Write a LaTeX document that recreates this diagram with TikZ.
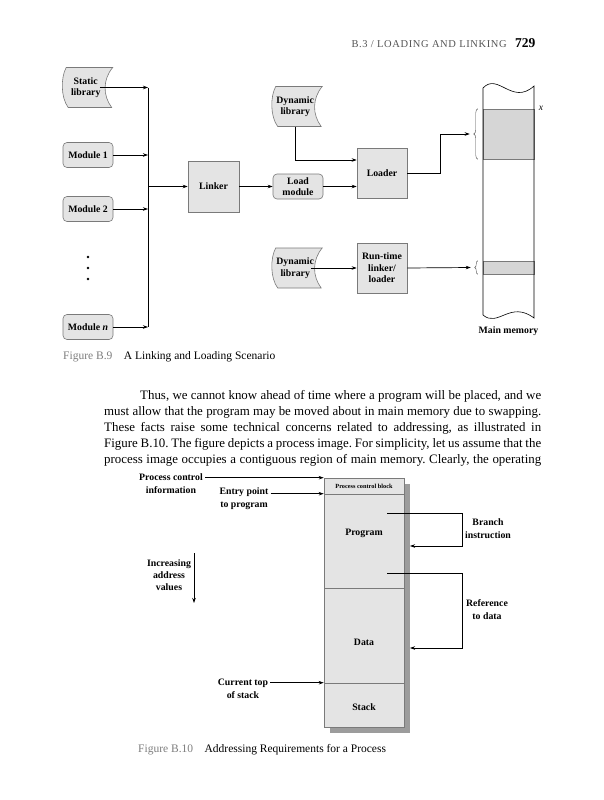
\documentclass[tikz,border=0pt]{standalone}
\usepackage{fontspec}
\setmainfont{Liberation Serif}
\usetikzlibrary{arrows.meta,decorations.pathreplacing}
\definecolor{boxfill}{HTML}{E4E4E4}
\definecolor{boxline}{HTML}{7A7A7A}
\definecolor{memfill}{HTML}{D6D6D6}
\definecolor{shadowgray}{HTML}{9C9C9C}
\definecolor{capgray}{HTML}{7E7E7E}
\definecolor{headgray}{HTML}{555555}
\newcommand\libshapeat[1]{\draw[draw=boxline, fill=boxfill, line width=0.6pt, shift={#1}] (-21.5,-20) -- (25,-20) .. controls (15,-8) and (15,8) .. (24,20) -- (-19.5,20) .. controls (-27,10) and (-27,-10) .. (-21.5,-20) -- cycle;}
\begin{document}
\frenchspacing
\begin{tikzpicture}[x=1pt,y=-1pt,
  lbl/.style={font=\bfseries\fontsize{9.8}{11.5}\selectfont, align=center, inner sep=0pt},
  box/.style={lbl, draw=boxline, fill=boxfill, line width=0.6pt, minimum width=50pt, minimum height=50pt},
  rbox/.style={lbl, draw=boxline, fill=boxfill, rounded corners=4pt, line width=0.6pt, minimum width=50pt, minimum height=25pt},
  lib/.style={lbl, minimum width=44pt, minimum height=40pt},
  memreg/.style={draw=boxline, fill=memfill, line width=0.5pt, minimum width=51pt, inner sep=0pt},
  seg/.style={draw=boxline, fill=boxfill, line width=0.6pt, minimum width=80pt, inner sep=0pt},
  conn/.style={line width=0.7pt, -{Stealth[length=5pt,width=3.5pt]}},
  plain/.style={line width=0.7pt},
  brc/.style={decorate, line width=0.4pt, draw=black!70},
  body/.style={anchor=base west, inner sep=0pt, font=\fontsize{12.9}{16}\selectfont},
  side/.style={lbl, font=\bfseries\fontsize{9.8}{13}\selectfont},
]
\useasboundingbox (0,0) rectangle (604,800);
\fill[white] (0,0) rectangle (604,800);

% header
\node[anchor=base east, inner sep=0pt, font=\addfontfeature{LetterSpace=6}\fontsize{10.5}{12}\selectfont, text=headgray] (head) at (507,48) {B.3 / LOADING AND LINKING};
\node[anchor=base west, inner sep=0pt, font=\bfseries\fontsize{13.5}{15}\selectfont] (pageno) at (515,48) {729};

% ---------- Figure B.9 ----------
\libshapeat{(87.7,87.5)}
\node[lib] (slib) at (85.7,87.5) {Static\\library};
\node[rbox] (mod1) at (88,155) {Module 1};
\node[rbox] (mod2) at (88,209) {Module 2};
\node[rbox] (modn) at (88,327) {Module \textit{n}};
\foreach \yy [count=\i] in {257,268,279} \fill (88,\yy) circle (1.3pt);

\coordinate (bustop) at (148,87.5);
\coordinate (busbot) at (148,327);
\draw[plain] (bustop) -- (busbot);
\draw[conn] ([xshift=-8pt]slib.east) -- (slib.east -| bustop);
\draw[conn] (mod1.east) -- (mod1.east -| bustop);
\draw[conn] (mod2.east) -- (mod2.east -| bustop);
\draw[conn] (modn.east) -- (modn.east -| bustop);

\node[box, minimum width=51pt, minimum height=51pt] (linker) at (213.5,186.5) {Linker};
\draw[conn] (linker.west -| bustop) -- (linker.west);
\node[rbox] (loadmod) at (298,186.5) {Load\\module};
\draw[conn] (linker.east) -- (loadmod.west);

\libshapeat{(297.2,106.5)}
\node[lib] (dlib1) at (295.2,106.5) {Dynamic\\library};
\node[box] (loader) at (382,173) {Loader};
\draw[conn] (dlib1.south) |- ([yshift=13pt]loader.west);
\draw[conn] (loadmod.east) -- (loadmod.east -| loader.west);

\libshapeat{(297.2,268)}
\node[lib] (dlib2) at (295.2,268) {Dynamic\\library};
\node[box] (rtl) at (382,268) {Run-time\\linker/\\loader};
\draw[conn] ([xshift=-6pt]dlib2.east) -- (rtl.west);

% main memory
\node[memreg, minimum height=50pt] (seg1) at (508.5,134) {};
\node[memreg, minimum height=13pt] (seg2) at (508.5,267.5) {};
\draw[line width=0.6pt] (483,315) -- (483,88) .. controls (498,72) and (512,106) .. (534,86) -- (534,318) .. controls (510,300) and (498,328) .. (483,315);
\node[font=\itshape\fontsize{9.5}{11}\selectfont, inner sep=0pt] (xlbl) at (541,108) {x};
\node[lbl] (mmlbl) at (508.5,331) {Main memory};
\draw[brc, decoration={brace, amplitude=4pt}] ([xshift=-5pt]seg1.south west) -- ([xshift=-5pt]seg1.north west);
\draw[brc, decoration={brace, amplitude=3pt}] ([xshift=-5pt]seg2.south west) -- ([xshift=-5pt]seg2.north west);
\draw[conn] (loader.east) -- ++(33,0) |- ([xshift=-13pt]seg1.west);
\draw[conn] (rtl.east) -- ([xshift=-12pt]seg2.west);

\node[anchor=base west, inner sep=0pt, font=\fontsize{11.5}{13}\selectfont] (cap9) at (63,359) {\textcolor{capgray}{Figure B.9}\hspace{1em}A Linking and Loading Scenario};

% ---------- body text ----------
\node[body] (l1) at (140,399) {\makebox[401pt][s]{Thus, we cannot know ahead of time where a program will be placed, and we}};
\node[body] (l2) at (104,415) {\makebox[437pt][s]{must allow that the program may be moved about in main memory due to swapping.}};
\node[body] (l3) at (104,431) {\makebox[437pt][s]{These facts raise some technical concerns related to addressing, as illustrated in}};
\node[body] (l4) at (104,447) {\makebox[437pt][s]{Figure B.10. The figure depicts a process image. For simplicity, let us assume that the}};
\node[body] (l5) at (104,463) {\makebox[437pt][s]{process image occupies a contiguous region of main memory. Clearly, the operating}};

% ---------- Figure B.10 ----------
\fill[shadowgray] (330,484) rectangle (410,733);
\node[seg, minimum height=16pt] (pcb) at (364,486) {};
\node[seg, minimum height=94pt] (prog) at (364,541) {};
\node[seg, minimum height=95pt] (data) at (364,635.5) {};
\node[seg, minimum height=44pt] (stack) at (364,705) {};
\node[lbl, font=\bfseries\fontsize{6.3}{7}\selectfont] (pcbt) at (364,486) {Process control block};
\node[lbl] (progt) at (364,533) {Program};
\node[lbl] (datat) at (364,642) {Data};
\node[lbl] (stackt) at (364,707) {Stack};

\node[side] (pci) at (171,483.5) {Process control\\information};
\draw[conn] ([xshift=2pt]pci.east |- pcb.north) -- (pcb.north west);
\node[side] (entry) at (244,498.5) {Entry point\\to program};
\draw[conn] ([xshift=2pt]entry.east |- prog.north) -- (prog.north west);

\node[lbl, font=\bfseries\fontsize{9.8}{12}\selectfont] (incr) at (169,575) {Increasing\\address\\values};
\coordinate (ia) at (194,553);
\coordinate (ib) at (194,603);
\draw[conn] (ia) -- (ib);

\coordinate (br1) at (387,513);
\coordinate (brend) at (410,546);
\draw[conn] (br1) -- (462,513) |- (brend);
\node[side] (branch) at (488,529) {Branch\\instruction};

\coordinate (rf1) at (387,573);
\coordinate (rfend) at (410,648);
\draw[conn] (rf1) -- (462,573) |- (rfend);
\node[side] (reft) at (487,610) {Reference\\to data};

\node[side] (ctop) at (243,689) {Current top\\of stack};
\draw[conn] ([xshift=2pt]ctop.east |- stack.north) -- (stack.north west);

\node[anchor=base west, inner sep=0pt, font=\fontsize{11.5}{13}\selectfont] (cap10) at (138,752) {\textcolor{capgray}{Figure B.10}\hspace{1em}Addressing Requirements for a Process};
\end{tikzpicture}
\end{document}
